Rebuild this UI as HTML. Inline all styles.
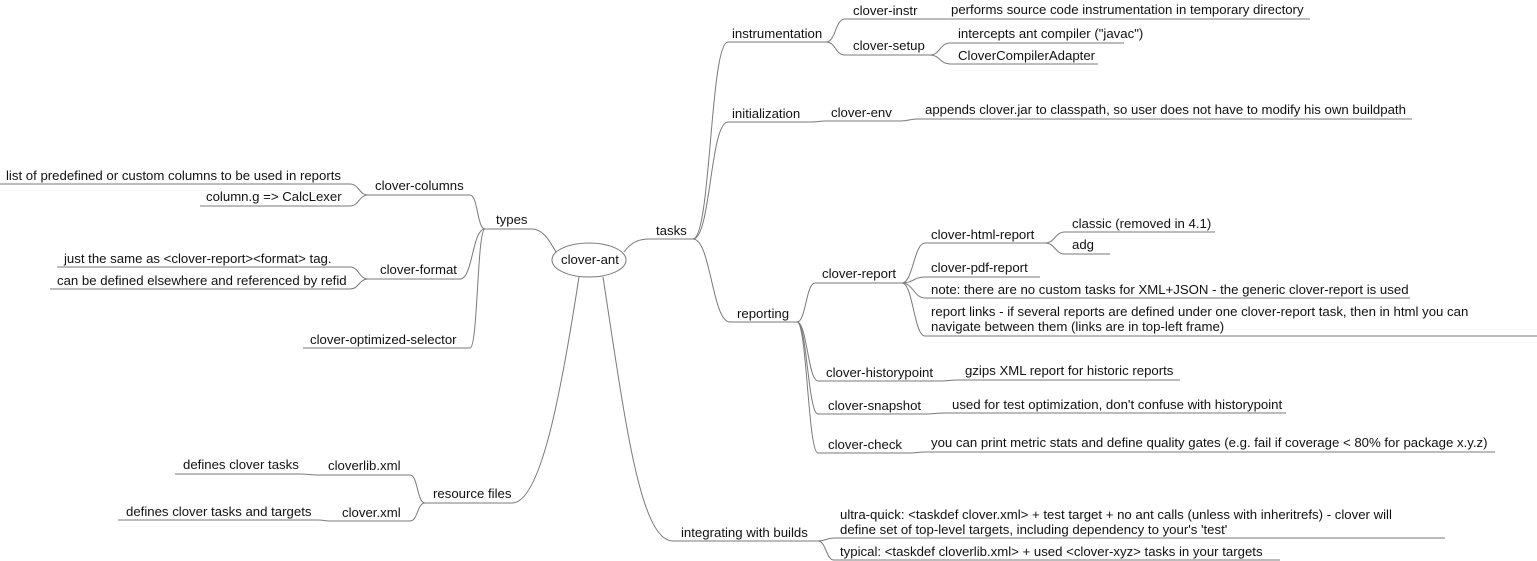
<!DOCTYPE html>
<html><head><meta charset="utf-8"><style>
html,body{margin:0;padding:0;background:#fff;}
svg{display:block;}
text{font-family:"Liberation Sans","DejaVu Sans",sans-serif;font-size:13.2px;fill:#111;}
path,line{stroke:#7a7a7a;stroke-width:1;fill:none;}
</style></head><body>
<svg width="1537" height="561" viewBox="0 0 1537 561" xmlns="http://www.w3.org/2000/svg">
<ellipse cx="589" cy="260" rx="37" ry="17" fill="#fff" stroke="#7a7a7a"/>
<text x="561" y="264">clover-ant</text>

<path d="M624 252 C632 241 640 239 650 239 L693 239"/>
<text x="656" y="235">tasks</text>

<path d="M693 239 C711 239 710 42 728 42 L826 42"/><text x="732" y="38">instrumentation</text>
<path d="M693 239 C711 239 710 122 728 122 L812 122"/><text x="732" y="118">initialization</text>
<path d="M693 239 C711 239 712 322 730 322 L797 322"/><text x="737" y="318">reporting</text>

<path d="M826 42 C836 42 835 19 845 19 L925 19"/><text x="853" y="15">clover-instr</text>
<path d="M826 42 C836 42 835 55 845 55 L930 55"/><text x="853" y="50">clover-setup</text>
<path d="M925 19 C935 19 935 19 945 19 L1310 19"/><text x="951" y="14">performs source code instrumentation in temporary directory</text>
<path d="M930 55 C940 55 940 43 950 43 L1124 43"/><text x="958" y="38">intercepts ant compiler ("javac")</text>
<path d="M930 55 C940 55 940 64 950 64 L1098 64"/><text x="958" y="60">CloverCompilerAdapter</text>

<path d="M812 122 C818 122 819 121 825 121 L900 121"/><text x="831" y="117">clover-env</text>
<path d="M900 121 C909 121 909 119 918 119 L1412 119"/><text x="925" y="114">appends clover.jar to classpath, so user does not have to modify his own buildpath</text>

<path d="M797 322 C806 322 806 283 815 283 L902 283"/><text x="822" y="278">clover-report</text>
<path d="M797 322 C807 322 808 381 818 381 L940 381"/><text x="826" y="377">clover-historypoint</text>
<path d="M797 322 C807 322 808 414 818 414 L925 414"/><text x="828" y="410">clover-snapshot</text>
<path d="M797 322 C807 322 808 453 818 453 L910 453"/><text x="828" y="449">clover-check</text>

<path d="M902 283 C913 283 914 243 925 243 L1045 243"/><text x="931" y="239">clover-html-report</text>
<path d="M902 283 C913 283 914 277 925 277 L1040 277"/><text x="931" y="272">clover-pdf-report</text>
<path d="M902 283 C913 283 914 298 925 298 L1410 298"/><text x="931" y="294">note: there are no custom tasks for XML+JSON - the generic clover-report is used</text>
<path d="M902 283 C913 283 914 336 925 336 L1537 336"/><text x="931" y="316">report links - if several reports are defined under one clover-report task, then in html you can</text><text x="931" y="331">navigate between them (links are in top-left frame)</text>

<path d="M1045 243 C1055 243 1055 232 1065 232 L1215 232"/><text x="1072" y="228">classic (removed in 4.1)</text>
<path d="M1045 243 C1055 243 1055 254 1065 254 L1110 254"/><text x="1072" y="249">adg</text>

<path d="M940 381 C949 381 949 380 958 380 L1180 380"/><text x="965" y="375">gzips XML report for historic reports</text>
<path d="M925 414 C935 414 935 413 945 413 L1286 413"/><text x="952" y="409">used for test optimization, don't confuse with historypoint</text>
<path d="M910 453 C917 453 918 452 925 452 L1495 452"/><text x="931" y="447">you can print metric stats and define quality gates (e.g. fail if coverage &lt; 80% for package x.y.z)</text>

<path d="M603 277 C625 420 640 541 673 541 L818 541"/><text x="681" y="537">integrating with builds</text>
<path d="M818 541 C826 541 826 538 834 538 L1445 538"/><text x="840" y="519">ultra-quick: &lt;taskdef clover.xml&gt; + test target + no ant calls (unless with inheritrefs) - clover will</text><text x="840" y="534">define set of top-level targets, including dependency to your's 'test'</text>
<path d="M818 541 C826 541 826 560 834 560 L1280 560"/><text x="840" y="556">typical: &lt;taskdef cloverlib.xml&gt; + used &lt;clover-xyz&gt; tasks in your targets</text>

<path d="M556 252 C548 238 542 229 532 229 L485 229"/><text x="496" y="224">types</text>
<path d="M485 229 C477 229 478 195 470 195 L368 195"/><text x="375" y="190">clover-columns</text>
<path d="M485 229 C472 229 473 279 460 279 L368 279"/><text x="380" y="274">clover-format</text>
<path d="M485 229 C477 229 478 348 470 348 L303 348"/><text x="310" y="344">clover-optimized-selector</text>
<path d="M368 195 C359 195 359 184 350 184 L0 184"/><text x="6" y="180">list of predefined or custom columns to be used in reports</text>
<path d="M368 195 C359 195 359 206 350 206 L200 206"/><text x="206" y="201">column.g =&gt; CalcLexer</text>
<path d="M368 279 C359 279 359 267 350 267 L57 267"/><text x="64" y="263">just the same as &lt;clover-report&gt;&lt;format&gt; tag.</text>
<path d="M368 279 C359 279 359 289 350 289 L50 289"/><text x="57" y="285">can be defined elsewhere and referenced by refid</text>

<path d="M579 277 C560 400 540 503 512 503 L425 503"/><text x="433" y="498">resource files</text>
<path d="M425 503 C417 503 418 475 410 475 L318 475"/><text x="328" y="470">cloverlib.xml</text>
<path d="M425 503 C417 503 418 521 410 521 L330 521"/><text x="342" y="517">clover.xml</text>
<path d="M318 475 C309 475 309 474 300 474 L175 474"/><text x="183" y="469">defines clover tasks</text>
<path d="M330 521 C324 521 324 520 318 520 L118 520"/><text x="126" y="516">defines clover tasks and targets</text>
</svg>
</body></html>
